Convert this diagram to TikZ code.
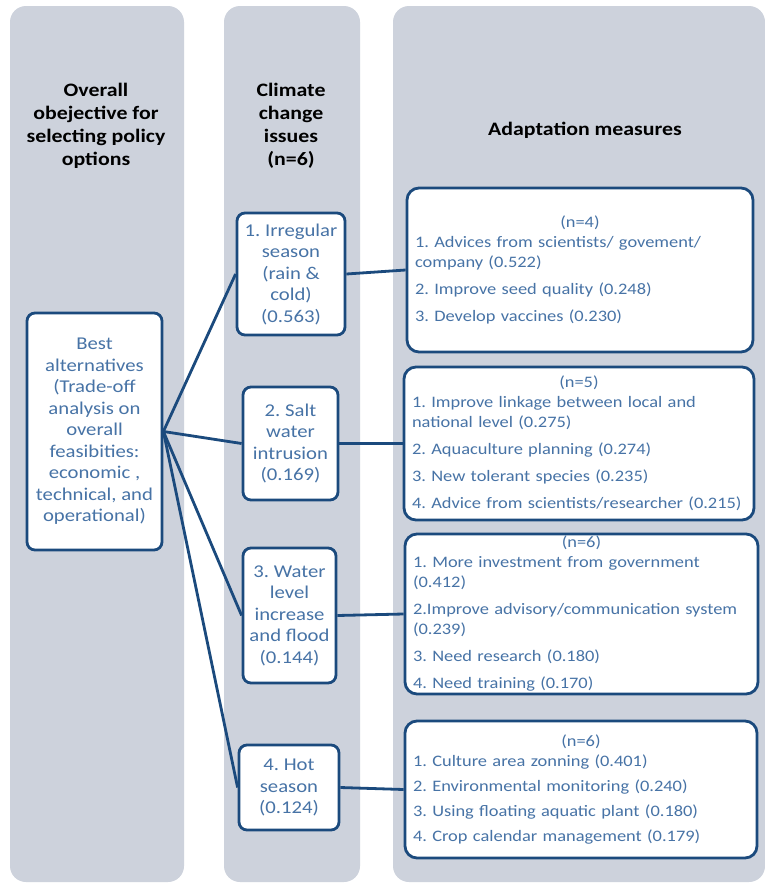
\documentclass[tikz,border=0pt]{standalone}
\usepackage{fontspec}
\setmainfont{Carlito}[FakeStretch=1.15]
\definecolor{panelgray}{HTML}{CDD2DC}
\definecolor{boxnavy}{HTML}{1B4A7D}
\definecolor{textblue}{HTML}{4773A6}
\frenchspacing

\begin{document}
\begin{tikzpicture}[x=1pt,y=-1pt,
  panel/.style={fill=panelgray,rounded corners=16pt},
  head/.style={align=center,font=\fontsize{19}{23}\selectfont\bfseries},
  issue/.style={draw=boxnavy,line width=2.8pt,fill=white,rounded corners=8pt,align=center,text=textblue,inner sep=2pt,font=\fontsize{18}{21.5}\selectfont},
  measure/.style={draw=boxnavy,line width=2.8pt,fill=white,rounded corners=12pt,text=textblue,inner xsep=8pt,inner ysep=0pt,font=\fontsize{16}{20}\selectfont},
  link/.style={boxnavy,line width=2.8pt}]
\useasboundingbox (0,0) rectangle (765,884);
\fill[white] (0,0) rectangle (765,884);
% columns
\fill[panel] (10,6) rectangle (184,882);
\fill[panel] (224,6) rectangle (360,882);
\fill[panel] (393,6) rectangle (765,882);

% headers
\node[head] (hobj) at (96,126) {Overall\\obejective for\\selecting policy\\options};
\node[head] (hiss) at (291,126) {Climate\\change\\issues\\(n=6)};
\node[head] (hmea) at (585,130) {Adaptation measures};

% objective
\node[issue,minimum width=135pt,minimum height=237pt] (best) at (94.5,431.5) {Best\\alternatives\\(Trade-off\\analysis on\\overall\\feasibities:\\economic ,\\technical, and\\operational)};

% issues
\node[issue,minimum width=108pt,minimum height=122pt] (iss1) at (291,274) {1. Irregular\\season\\(rain \&\\cold)\\(0.563)};
\node[issue,minimum width=95pt,minimum height=113pt] (iss2) at (290.5,443.5) {2. Salt\\water\\intrusion\\(0.169)};
\node[issue,minimum width=93pt,minimum height=135pt] (iss3) at (289.5,615.5) {3. Water\\level\\increase\\and flood\\(0.144)};
\node[issue,minimum width=100pt,minimum height=85pt] (iss4) at (289,787.5) {4. Hot\\season\\(0.124)};

% measures
\node[measure,text width=330pt,minimum height=164pt] (mea1) at (580,270) {\centering (n=4)\par\raggedright
1. Advices from scientists/ govement/\\company (0.522)\\[7pt]
2. Improve seed quality (0.248)\\[7pt]
3. Develop vaccines (0.230)};
\node[measure,text width=334pt,minimum height=153pt] (mea2) at (579,443.5) {\centering (n=5)\par\raggedright
1. Improve linkage between local and\\national level (0.275)\\[7pt]
2. Aquaculture planning (0.274)\\[7pt]
3. New tolerant species (0.235)\\[7pt]
4. Advice from scientists/researcher (0.215)};
\node[measure,text width=337pt,minimum height=160pt] (mea3) at (581.5,614) {\centering (n=6)\par\raggedright
1. More investment from government\\(0.412)\\[7pt]
2.Improve advisory/communication system\\(0.239)\\[7pt]
3. Need research (0.180)\\[7pt]
4. Need training (0.170)};
\node[measure,text width=336pt,minimum height=137pt] (mea4) at (581,789.5) {\centering (n=6)\par\raggedright
1. Culture area zonning (0.401)\\[5pt]
2. Environmental monitoring (0.240)\\[5pt]
3. Using floating aquatic plant (0.180)\\[5pt]
4. Crop calendar management (0.179)};

% links
\draw[link] (best.east) -- (iss1.west);
\draw[link] (best.east) -- (iss2.west);
\draw[link] (best.east) -- (iss3.west);
\draw[link] (best.east) -- (iss4.west);
\draw[link] (iss1.east) -- (mea1.west);
\draw[link] (iss2.east) -- (mea2.west);
\draw[link] (iss3.east) -- (mea3.west);
\draw[link] (iss4.east) -- (mea4.west);
\end{tikzpicture}
\end{document}
